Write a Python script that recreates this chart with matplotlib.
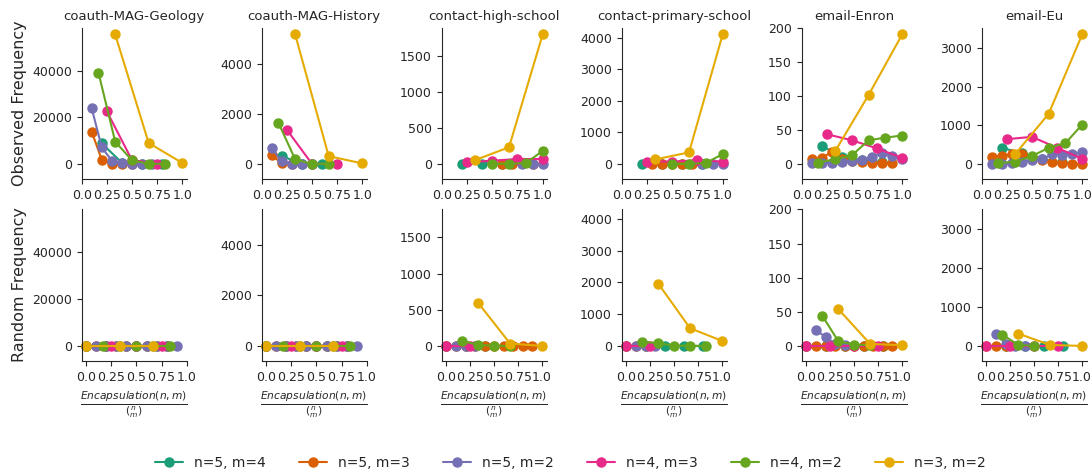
import numpy as np
import matplotlib
matplotlib.use("Agg")
import matplotlib.pyplot as plt
import seaborn as sns

sns.set_style("ticks")
plt.rcParams['font.family'] = ['DejaVu Sans']

datasets = ["coauth-MAG-Geology", "coauth-MAG-History", "contact-high-school",
            "contact-primary-school", "email-Enron", "email-Eu"]
series = ["n=5, m=4", "n=5, m=3", "n=5, m=2", "n=4, m=3", "n=4, m=2", "n=3, m=2"]
n_choose_m = [5, 10, 10, 4, 6, 3]
colors = sns.color_palette("Dark2", 6)

# observed: per dataset, per series -> (encapsulation counts k, frequency)
obs_geology = [([1, 2, 3, 4], [8800, 600, 150, 30]),
               ([1, 2, 3, 4, 5], [13800, 1800, 200, 40, 5]),
               ([1, 2, 3, 4, 5, 6, 7], [23800, 7100, 1400, 400, 100, 30, 10]),
               ([1, 2, 3], [22600, 1700, 100]),
               ([1, 2, 3, 4, 5], [39200, 9600, 1600, 150, 50]),
               ([1, 2, 3], [55500, 9000, 500])]
obs_history = [([1, 2, 3], [316, 10, 0]),
               ([1, 2, 3], [355, 25, 0]),
               ([1, 2, 3, 4, 5], [620, 120, 5, 0, 0]),
               ([1, 2, 3], [1370, 10, 0]),
               ([1, 2, 3, 4], [1645, 185, 10, 5]),
               ([1, 2, 3], [5170, 316, 25])]
obs_highschool = [([1, 2, 3, 4], [0, 2, 5, 8]),
                  ([6, 7, 8, 9], [3, 5, 8, 4]),
                  ([8, 9, 10], [2, 3, 1]),
                  ([1, 2, 3, 4], [23, 47, 70, 70]),
                  ([3, 4, 5, 6], [2, 5, 14, 182]),
                  ([1, 2, 3], [56, 234, 1804])]
obs_primary = [([1, 2, 3, 4], [0, 5, 10, 5]),
               ([3, 4, 5, 6, 7], [2, 5, 10, 15, 8]),
               ([8, 9, 10], [3, 5, 2]),
               ([1, 2, 3, 4], [80, 80, 115, 80]),
               ([3, 4, 5, 6], [5, 10, 30, 316]),
               ([1, 2, 3], [147, 368, 4100])]
obs_enron = [([1, 2, 3, 4], [27, 10, 6, 3]),
             ([1, 2, 3, 4, 5, 6, 7, 8, 9], [7, 9, 18, 8, 5, 3, 1, 1, 1]),
             ([1, 2, 3, 4, 5, 6, 7, 8, 9, 10], [1, 1, 2, 3, 5, 6, 11, 16, 12, 7]),
             ([1, 2, 3, 4], [44, 35, 23, 9]),
             ([1, 2, 3, 4, 5, 6], [2, 7, 13, 35, 39, 42]),
             ([1, 2, 3], [19, 102, 191])]
obs_eu = [([1, 2, 3, 4], [420, 280, 120, 40]),
          ([1, 2, 3, 4, 5, 6, 7, 8, 9, 10], [190, 214, 250, 257, 180, 94, 43, 26, 9, 0]),
          ([1, 2, 3, 4, 5, 6, 7, 8, 9, 10], [0, 0, 26, 43, 111, 128, 250, 240, 257, 300]),
          ([1, 2, 3, 4], [643, 703, 420, 137]),
          ([1, 2, 3, 4, 5, 6], [26, 60, 205, 420, 540, 1020]),
          ([1, 2, 3], [257, 1300, 3350])]

# random (null model)
rnd_geology = [([0, 1, 2, 3, 4], [0, 0, 0, 0, 0]),
               ([0, 1, 2, 3, 4, 5, 6, 7, 8], [0, 0, 0, 0, 0, 0, 0, 0, 0]),
               ([1, 2, 3, 4, 5, 6, 7, 8, 9], [0, 0, 0, 0, 0, 0, 0, 0, 0]),
               ([0, 1, 2, 3], [0, 0, 0, 0]),
               ([0, 1, 2, 3, 4, 5], [0, 0, 0, 0, 0, 0]),
               ([0, 1, 2], [0, 0, 0])]
rnd_history = [([0, 1, 2, 3, 4], [0, 0, 0, 0, 0]),
               ([0, 1, 2, 3, 4, 5, 6, 7, 8], [0, 0, 0, 0, 0, 0, 0, 0, 0]),
               ([1, 2, 3, 4, 5, 6, 7, 8, 9], [0, 0, 0, 0, 0, 0, 0, 0, 0]),
               ([0, 1, 2, 3], [0, 0, 0, 0]),
               ([0, 1, 2, 3, 4, 5], [0, 0, 0, 0, 0, 0]),
               ([0, 1, 2], [0, 0, 0])]
rnd_highschool = [([0, 1, 2], [0, 0, 0]),
                  ([0, 1, 2, 3, 4, 5, 6, 7, 8, 9], [0, 0, 0, 0, 0, 0, 0, 0, 0, 0]),
                  ([1, 2, 3], [0, 0, 0]),
                  ([0, 1], [0, 0]),
                  ([1, 2, 3, 4], [70, 14, 2, 0]),
                  ([1, 2, 3], [593, 33, 0])]
rnd_primary = [([0, 1, 2, 3, 4], [0, 0, 0, 0, 0]),
               ([0, 1, 2], [0, 0, 0]),
               ([1, 2, 3], [0, 0, 0]),
               ([0, 1], [0, 0]),
               ([1, 2, 3, 4, 5], [128, 86, 10, 5, 0]),
               ([1, 2, 3], [1957, 556, 160])]
rnd_enron = [([0, 1, 2, 3, 4], [0, 0, 0, 0, 0]),
             ([0, 1, 2, 3, 4, 5, 6, 7, 8, 9], [0, 0, 0, 0, 0, 0, 0, 0, 0, 0]),
             ([1, 2, 3, 4], [23, 13, 3, 1]),
             ([0, 1, 2, 3], [0, 0, 0, 0]),
             ([1, 2, 3, 4], [44, 7, 2, 1]),
             ([1, 2, 3], [54, 3, 1])]
rnd_eu = [([1, 2, 3, 4], [0, 0, 0, 0]),
          ([0, 1, 2], [0, 0, 0]),
          ([1, 2, 3, 4], [316, 60, 5, 0]),
          ([0, 1, 2, 3], [0, 0, 0, 0]),
          ([1, 2, 3], [290, 26, 0]),
          ([1, 2, 3], [316, 26, 0])]

observed = [obs_geology, obs_history, obs_highschool, obs_primary, obs_enron, obs_eu]
random_ = [rnd_geology, rnd_history, rnd_highschool, rnd_primary, rnd_enron, rnd_eu]

W, H = 1091, 471
fig = plt.figure(figsize=(W / 100, H / 100), dpi=100)

xticks = [0.0, 0.25, 0.5, 0.75, 1.0]
handles = []
for col, name in enumerate(datasets):
    left = (81.7 + 180 * col) / W
    ax_top = fig.add_axes([left, (H - 179) / H, 105 / W, 151 / H])
    ax_bot = fig.add_axes([left, (H - 361) / H, 105 / W, 152 / H])
    ymax = 0
    for row, (ax, data) in enumerate([(ax_top, observed[col]), (ax_bot, random_[col])]):
        for s, (ks, vals) in enumerate(data):
            x = np.array(ks) / n_choose_m[s]
            ln, = ax.plot(x, vals, marker='o', markersize=6.5, lw=1.5,
                          color=colors[s], label=series[s], clip_on=False)
            if col == 0 and row == 0:
                handles.append(ln)
            ymax = max(ymax, max(vals))
        ax.set_xticks(xticks)
        ax.set_xticklabels(["0.0", "0.25", "0.5", "0.75", "1.0"])
        ax.tick_params(labelsize=9)
        sns.despine(ax=ax)
    hi = 1.05 * ymax
    for ax in (ax_top, ax_bot):
        ax.set_ylim(-0.11 * hi, hi)
    ax_top.set_title(name, fontsize=9.5)
    ax_bot.set_xlabel(r"$\frac{Encapsulation(n,m)}{\binom{n}{m}}$", fontsize=11)
    if col == 0:
        ax_top.set_ylabel("Observed Frequency", fontsize=11.5)
        ax_bot.set_ylabel("Random Frequency", fontsize=11.5)

fig.legend(handles=handles, loc='center', bbox_to_anchor=(0.523, 0.018), ncol=6,
           frameon=False, fontsize=10, columnspacing=2.4, handlelength=2.0)

fig.savefig("out.png", dpi=100)
